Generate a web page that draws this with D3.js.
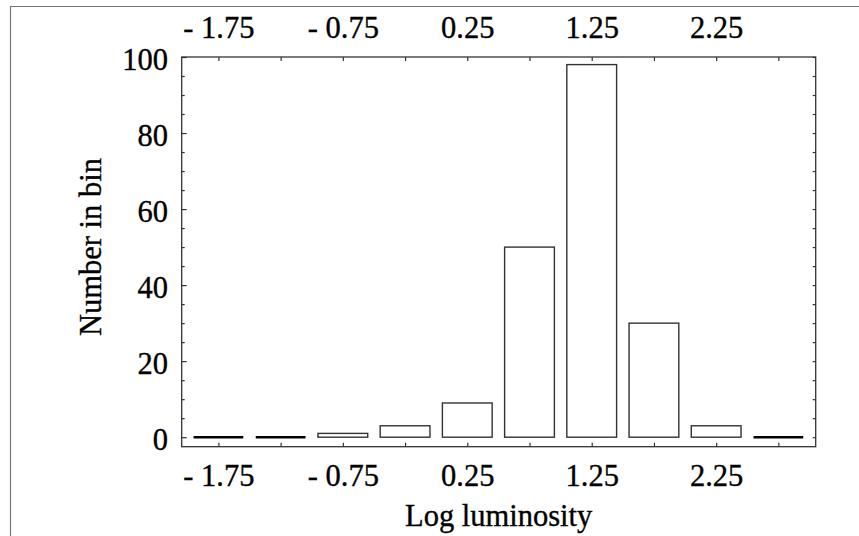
<!DOCTYPE html>
<html>
<head>
<meta charset="utf-8">
<script src="https://cdn.jsdelivr.net/npm/d3@7"></script>
<style>
  body { margin: 0; background: #fff; }
  svg { display: block; }
</style>
</head>
<body>
<script>
// histogram of log luminosity
const binCenters = [-1.75, -1.25, -0.75, -0.25, 0.25, 0.75, 1.25, 1.75, 2.25, 2.75];
const counts = [0, 0, 1, 3, 9, 50, 98, 30, 3, 0];
const xTickValues = [-1.75, -1.25, -0.75, -0.25, 0.25, 0.75, 1.25, 1.75, 2.25, 2.75];
const xLabelValues = [-1.75, -0.75, 0.25, 1.25, 2.25];
const xLabels = ["- 1.75", "- 0.75", "0.25", "1.25", "2.25"];
const yMajor = [0, 20, 40, 60, 80, 100];
const yMinor = d3.range(0, 101, 5);

const width = 859;
const height = 536;
const margin = { top: 57, right: 43.3, bottom: 89.3, left: 181.7 };
const font = "'Liberation Serif', 'Times New Roman', serif";
const fontSize = 30.5;
const ink = "#333";

const svg = d3.select("body").append("svg")
  .attr("width", width)
  .attr("height", height);

svg.append("rect").attr("width", width).attr("height", height).attr("fill", "#fff");

// outer frame (top and left only)
svg.append("path")
  .attr("d", `M10.5,${height} V6.5 H${width}`)
  .attr("fill", "none")
  .attr("stroke", "#777")
  .attr("stroke-width", 1.2);

const x = d3.scaleLinear().domain([-2.045, 3.05]).range([margin.left, width - margin.right]);
const y = d3.scaleLinear().domain([-2.5, 100]).range([height - margin.bottom, margin.top]);

const labelFor = (v) => {
  const i = xLabelValues.indexOf(v);
  return i < 0 ? "" : xLabels[i];
};

// bars
const halfBar = 0.2;
const bins = binCenters.map((c, i) => ({ c, n: counts[i] }));
svg.append("g")
  .selectAll("rect")
  .data(bins.filter((d) => d.n > 0))
  .join("rect")
  .attr("x", (d) => x(d.c - halfBar))
  .attr("width", (d) => x(d.c + halfBar) - x(d.c - halfBar))
  .attr("y", (d) => y(d.n))
  .attr("height", (d) => y(0) - y(d.n))
  .attr("fill", "#fff")
  .attr("stroke", ink)
  .attr("stroke-width", 1.4);

// empty bins collapse to a flat line
svg.append("g")
  .selectAll("line")
  .data(bins.filter((d) => d.n === 0))
  .join("line")
  .attr("x1", (d) => x(d.c - halfBar))
  .attr("x2", (d) => x(d.c + halfBar))
  .attr("y1", y(0))
  .attr("y2", y(0))
  .attr("stroke", "#000")
  .attr("stroke-width", 2.4);

// axes, ticks pointing inward
function styleAxis(g) {
  g.select(".domain").remove();
  g.selectAll(".tick line").attr("stroke", ink).attr("stroke-width", 1.2);
  g.selectAll("text")
    .attr("font-family", font)
    .attr("font-size", fontSize)
    .attr("fill", "#000")
    .attr("stroke", "#000")
    .attr("stroke-width", 0.35);
}

svg.append("g")
  .attr("transform", `translate(0,${height - margin.bottom})`)
  .call(d3.axisBottom(x).tickValues(xTickValues).tickFormat(labelFor)
    .tickSizeInner(-4).tickSizeOuter(0).tickPadding(18))
  .call(styleAxis);

svg.append("g")
  .attr("transform", `translate(0,${margin.top})`)
  .call(d3.axisTop(x).tickValues(xTickValues).tickFormat(labelFor)
    .tickSizeInner(-4).tickSizeOuter(0).tickPadding(19))
  .call(styleAxis);

// left minor + major
svg.append("g")
  .attr("transform", `translate(${margin.left},0)`)
  .call(d3.axisLeft(y).tickValues(yMinor.filter((v) => !yMajor.includes(v))).tickFormat("")
    .tickSizeInner(-3).tickSizeOuter(0))
  .call(styleAxis);

svg.append("g")
  .attr("transform", `translate(${margin.left},0)`)
  .call(d3.axisLeft(y).tickValues(yMajor).tickFormat(d3.format("d"))
    .tickSizeInner(-5).tickSizeOuter(0).tickPadding(13.7))
  .call(styleAxis)
  .call((g) => g.selectAll("text").attr("dy", "0.4em"));

svg.append("g")
  .attr("transform", `translate(${width - margin.right},0)`)
  .call(d3.axisRight(y).tickValues(yMinor).tickFormat("")
    .tickSizeInner(-3).tickSizeOuter(0))
  .call(styleAxis);

// plot frame
svg.append("rect")
  .attr("x", margin.left)
  .attr("y", margin.top)
  .attr("width", width - margin.left - margin.right)
  .attr("height", height - margin.top - margin.bottom)
  .attr("fill", "none")
  .attr("stroke", ink)
  .attr("stroke-width", 1.3);

// axis titles
svg.append("text")
  .attr("x", (margin.left + width - margin.right) / 2)
  .attr("y", 526)
  .attr("text-anchor", "middle")
  .attr("font-family", font)
  .attr("font-size", fontSize)
  .attr("stroke", "#000")
  .attr("stroke-width", 0.35)
  .text("Log luminosity");

svg.append("text")
  .attr("transform", `translate(101,247) rotate(-90)`)
  .attr("text-anchor", "middle")
  .attr("font-family", font)
  .attr("font-size", fontSize)
  .attr("stroke", "#000")
  .attr("stroke-width", 0.35)
  .text("Number in bin");
</script>
</body>
</html>
